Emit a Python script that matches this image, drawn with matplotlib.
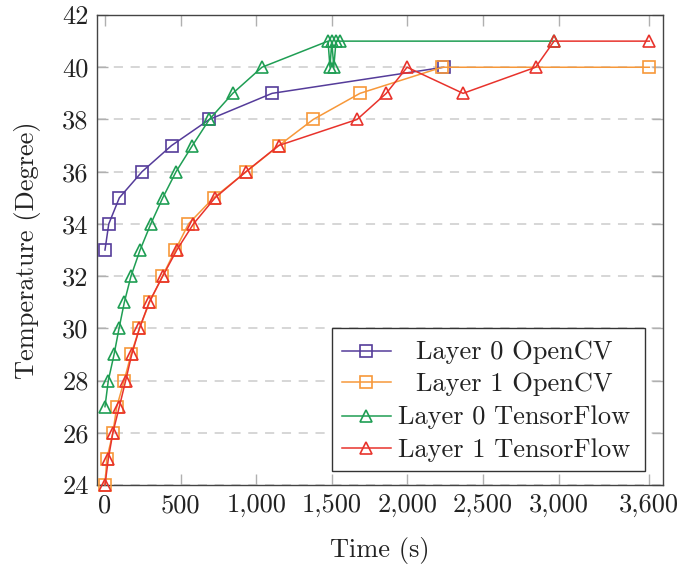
import matplotlib
matplotlib.use("Agg")
import matplotlib.pyplot as plt
from matplotlib.lines import Line2D
from matplotlib.patches import Rectangle
from matplotlib.ticker import FuncFormatter

plt.rcParams['font.family'] = ['cmr10', 'DejaVu Serif']
plt.rcParams['axes.unicode_minus'] = False
plt.rcParams['axes.formatter.use_mathtext'] = False

# ---- data ----
l0_cv_t = [0, 25, 95, 245, 440, 690, 1105, 2240]
l0_cv_y = [33, 34, 35, 36, 37, 38, 39, 40]

l1_cv_t = [0, 12, 52, 78, 127, 172, 228, 295, 380, 465, 552, 718, 935, 1150, 1377, 1686, 2230, 3600]
l1_cv_y = [24, 25, 26, 27, 28, 29, 30, 31, 32, 33, 34, 35, 36, 37, 38, 39, 40, 40]

l0_tf_t = [0, 22, 60, 93, 128, 172, 232, 303, 382, 470, 578, 690, 845, 1038, 1475, 1488, 1500, 1513, 1528, 1555, 2970]
l0_tf_y = [27, 28, 29, 30, 31, 32, 33, 34, 35, 36, 37, 38, 39, 40, 41, 40, 41, 40, 41, 41, 41]

l1_tf_t = [0, 22, 52, 95, 137, 177, 228, 292, 382, 475, 585, 728, 932, 1148, 1667, 1860, 1998, 2368, 2848, 2970, 3600]
l1_tf_y = [24, 25, 26, 27, 28, 29, 30, 31, 32, 33, 34, 35, 36, 37, 38, 39, 40, 39, 40, 41, 41]

series_labels = ["Layer 0 OpenCV", "Layer 1 OpenCV", "Layer 0 TensorFlow", "Layer 1 TensorFlow"]
x_ticks = [0, 500, 1000, 1500, 2000, 2500, 3000, 3600]
y_ticks = [24, 26, 28, 30, 32, 34, 36, 38, 40, 42]

colors = ['#553c9a', '#f7983a', '#1f9e54', '#e8332c']
markers = ['s', 's', '^', '^']

fig = plt.figure(figsize=(6.8, 5.69), dpi=100)
ax = fig.add_axes([0.1426, 0.1476, 0.8319, 0.826])

series = [(l0_cv_t, l0_cv_y), (l1_cv_t, l1_cv_y), (l0_tf_t, l0_tf_y), (l1_tf_t, l1_tf_y)]
for (t, y), c, m, lab in zip(series, colors, markers, series_labels):
    ax.plot(t, y, color=c, lw=1.1, marker=m, ms=8.5 if m == 's' else 8.5,
            mfc='none', mec=c, mew=1.2, label=lab, clip_on=False, zorder=3)

ax.set_xlim(-53, 3688)
ax.set_ylim(24, 42)
ax.set_xticks(x_ticks)
ax.set_yticks(y_ticks)
ax.xaxis.set_major_formatter(FuncFormatter(lambda v, p: f"{int(v):,}"))
ax.yaxis.set_major_formatter(FuncFormatter(lambda v, p: f"{int(v)}"))

ax.grid(axis='y', color='#cccccc', linestyle=(0, (6, 5)), lw=1.1, zorder=0)
ax.tick_params(direction='in', top=True, right=True, length=8, width=1,
               color='#b0b0b0', labelsize=19, labelcolor='#222222', pad=6)
for s in ax.spines.values():
    s.set_color('#444444')
    s.set_linewidth(1.0)

ax.set_xlabel("Time (s)", fontsize=19, color='#222222', labelpad=14)
ax.set_ylabel("Temperature (Degree)", fontsize=19, color='#222222', labelpad=15)

# legend with centred labels (pgfplots style)
ax.add_patch(Rectangle((0.416, 0.0304), 0.9687 - 0.416, 0.334 - 0.0304,
                       transform=ax.transAxes, facecolor='white', edgecolor='#333333',
                       lw=1.0, zorder=5))
row_y = [0.2857, 0.2185, 0.1474, 0.0780]
for yy, c, m, lab in zip(row_y, colors, markers, series_labels):
    ax.add_line(Line2D([0.4327, 0.5193], [yy, yy], transform=ax.transAxes,
                       color=c, lw=1.1, zorder=6))
    ax.add_line(Line2D([0.476], [yy], transform=ax.transAxes, color=c, marker=m,
                       ms=8.5, mfc='none', mec=c, mew=1.2, zorder=6))
    ax.text(0.7371, yy - 0.0185, lab, transform=ax.transAxes, ha='center', va='baseline',
            fontsize=19, color='#222222', zorder=7)

fig.savefig("out.png", dpi=100)
